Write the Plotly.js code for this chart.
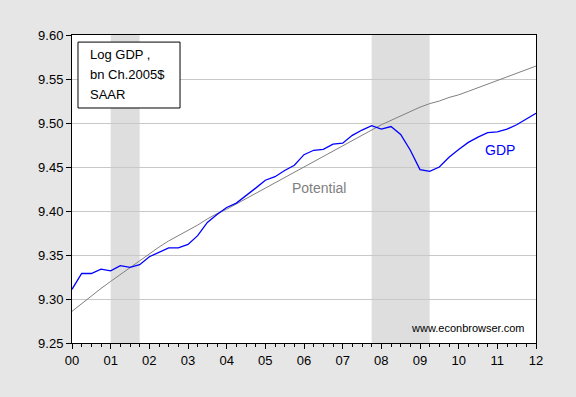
<!DOCTYPE html>
<html>
<head>
<meta charset="utf-8">
<script src="https://cdn.plot.ly/plotly-3.0.1.min.js"></script>
<style>
html,body{margin:0;padding:0;background:#e6e6e6;}
#chart{width:576px;height:397px;}
</style>
</head>
<body>
<div id="chart"></div>
<script>
// Quarterly dates (decimal years), 2000Q1 .. 2012Q1
var quarters = [2000.00,2000.25,2000.50,2000.75,2001.00,2001.25,2001.50,2001.75,
  2002.00,2002.25,2002.50,2002.75,2003.00,2003.25,2003.50,2003.75,
  2004.00,2004.25,2004.50,2004.75,2005.00,2005.25,2005.50,2005.75,
  2006.00,2006.25,2006.50,2006.75,2007.00,2007.25,2007.50,2007.75,
  2008.00,2008.25,2008.50,2008.75,2009.00,2009.25,2009.50,2009.75,
  2010.00,2010.25,2010.50,2010.75,2011.00,2011.25,2011.50,2011.75,2012.00];

// Log real GDP (bn Ch.2005$, SAAR)
var logGDP = [9.311,9.329,9.329,9.334,9.332,9.338,9.336,9.339,
  9.348,9.353,9.358,9.358,9.362,9.372,9.387,9.396,
  9.404,9.409,9.417,9.426,9.435,9.439,9.446,9.452,
  9.464,9.469,9.470,9.476,9.477,9.486,9.492,9.497,
  9.493,9.496,9.487,9.469,9.447,9.445,9.450,9.461,
  9.470,9.478,9.484,9.489,9.490,9.493,9.498,9.505,9.511];

// Log potential GDP
var logPotential = [9.286,9.295,9.303,9.312,9.320,9.328,9.336,9.344,
  9.352,9.359,9.366,9.372,9.378,9.384,9.391,9.397,
  9.402,9.408,9.414,9.420,9.426,9.432,9.438,9.444,
  9.450,9.456,9.462,9.468,9.474,9.480,9.486,9.492,
  9.498,9.503,9.508,9.513,9.518,9.522,9.525,9.529,
  9.532,9.536,9.540,9.544,9.548,9.552,9.556,9.560,9.5647];

// NBER recessions
var recessionStart = [2001.00, 2007.75];
var recessionEnd   = [2001.75, 2009.25];

// x tick labels
var yearTicks = [2000,2001,2002,2003,2004,2005,2006,2007,2008,2009,2010,2011,2012];
var yearLabels = ["00","01","02","03","04","05","06","07","08","09","10","11","12"];

var FONT = "Liberation Sans, Arial, sans-serif";

var traces = [
  {x: quarters, y: logPotential, type: "scatter", mode: "lines",
   line: {color: "#808080", width: 1}, name: "Potential", hoverinfo: "skip"},
  {x: quarters, y: logGDP, type: "scatter", mode: "lines",
   line: {color: "#0000ff", width: 1.3}, name: "GDP", hoverinfo: "skip"}
];

var shapes = recessionStart.map(function(s, i){
  return {type: "rect", xref: "x", yref: "paper", x0: s, x1: recessionEnd[i],
    y0: 0, y1: 1, fillcolor: "#dedede", line: {width: 0}, layer: "below"};
});
// text box frame
shapes.push({type: "rect", xref: "paper", yref: "paper",
  x0: 0.0129, x1: 0.2328, y0: 0.763, y1: 0.977,
  fillcolor: "#ffffff", line: {color: "#000000", width: 1}, layer: "above"});

var boxLines = ["Log GDP ,", "bn Ch.2005$", "SAAR"];
var boxY = [0.938, 0.872, 0.808];
var annotations = boxLines.map(function(t, i){
  return {text: t, xref: "paper", yref: "paper", x: 0.0345, y: boxY[i],
    xanchor: "left", yanchor: "middle", showarrow: false,
    font: {family: FONT, size: 13, color: "#000000"}};
});
annotations.push({text: "Potential", xref: "x", yref: "y", x: 2005.64, y: 9.4257,
  xanchor: "left", yanchor: "middle", showarrow: false,
  font: {family: FONT, size: 14, color: "#808080"}});
annotations.push({text: "GDP", xref: "x", yref: "y", x: 2010.62, y: 9.4689,
  xanchor: "left", yanchor: "middle", showarrow: false,
  font: {family: FONT, size: 14, color: "#0000ff"}});
annotations.push({text: "www.econbrowser.com", xref: "paper", yref: "paper",
  x: 0.981, y: 0.0477, xanchor: "right", yanchor: "middle", showarrow: false,
  font: {family: FONT, size: 11, color: "#000000"}});

var layout = {
  width: 576, height: 397,
  margin: {l: 72, r: 40, t: 35, b: 54, pad: 0},
  paper_bgcolor: "#e6e6e6",
  plot_bgcolor: "#ffffff",
  showlegend: false,
  font: {family: FONT, size: 13, color: "#000000"},
  xaxis: {
    range: [2000, 2012],
    tickvals: yearTicks, ticktext: yearLabels,
    ticks: "outside", ticklen: 5, tickcolor: "#000000", tickwidth: 1,
    minor: {dtick: 0.25, tick0: 2000, ticks: "outside", ticklen: 3, tickcolor: "#000000", showgrid: false},
    showgrid: false, zeroline: false,
    showline: true, linecolor: "#000000", linewidth: 1, mirror: true,
    tickfont: {family: FONT, size: 13, color: "#000000"}
  },
  yaxis: {
    range: [9.25, 9.60],
    dtick: 0.05, tick0: 9.25, tickformat: ".2f",
    ticks: "outside", ticklen: 5, tickcolor: "#000000", tickwidth: 1,
    showgrid: true, gridcolor: "#c8c8c8", gridwidth: 1, zeroline: false,
    showline: true, linecolor: "#000000", linewidth: 1, mirror: true,
    tickfont: {family: FONT, size: 13, color: "#000000"}
  },
  shapes: shapes,
  annotations: annotations
};

Plotly.newPlot("chart", traces, layout, {displayModeBar: false, staticPlot: true});
</script>
</body>
</html>
